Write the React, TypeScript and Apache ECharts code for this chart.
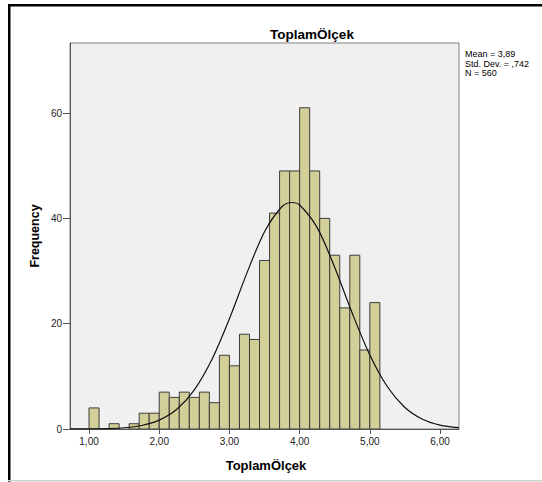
import React, { useEffect, useRef } from "react";
import * as echarts from "echarts";

// Histogram of ToplamÖlçek (bins of width 1/7 starting at 1,00)
const BIN_START = 1;
const BIN_WIDTH = 1 / 7;
const COUNTS = [4, 0, 1, 0, 1, 3, 3, 7, 6, 7, 6, 7, 5, 14, 12, 18, 17, 32, 41, 49, 49, 61, 49, 40, 33, 23, 33, 15, 24];

// Normal curve overlay (x, frequency)
const CURVE_X = [0.73, 1.0, 1.25, 1.5, 1.75, 2.0, 2.25, 2.5, 2.75, 3.0, 3.25, 3.5, 3.75, 3.89, 4.0, 4.25, 4.5, 4.75, 5.0, 5.25, 5.5, 5.75, 6.0, 6.27];
const CURVE_Y = [0.01, 0.02, 0.08, 0.24, 0.67, 1.68, 3.74, 7.44, 13.2, 20.95, 29.65, 37.46, 42.25, 43.01, 42.54, 38.24, 30.68, 21.97, 14.05, 8.02, 4.09, 1.86, 0.75, 0.25];

const X_TICKS = [1, 2, 3, 4, 5, 6];
const Y_TICKS = [0, 20, 40, 60];
const STATS = ["Mean = 3,89", "Std. Dev. = ,742", "N = 560"];
const TITLE = "ToplamÖlçek";
const X_NAME = "ToplamÖlçek";
const Y_NAME = "Frequency";

const FONT = "Liberation Sans, Arial, sans-serif";

export default function App() {
  const ref = useRef<HTMLDivElement>(null);
  useEffect(() => {
    if (!ref.current) return;
    const chart = echarts.init(ref.current, undefined, { renderer: "svg" });
    const barData = COUNTS.map((c, i) => [
      BIN_START + i * BIN_WIDTH,
      BIN_START + (i + 1) * BIN_WIDTH,
      c,
    ]).filter((d) => d[2] > 0);
    const curveData = CURVE_X.map((x, i) => [x, CURVE_Y[i]]);
    chart.setOption({
      animation: false,
      backgroundColor: "#ffffff",
      textStyle: { fontFamily: FONT },
      grid: {
        left: 70,
        top: 43,
        width: 389,
        height: 386,
        show: true,
        backgroundColor: "#f0f0f0",
        borderColor: "#808080",
        borderWidth: 1,
      },
      xAxis: {
        type: "value",
        min: 0.729,
        max: 6.27,
        splitLine: { show: false },
        axisLine: { show: true, onZero: false, lineStyle: { color: "#555555", width: 1 } },
        axisTick: { show: true, length: 5, customValues: X_TICKS, lineStyle: { color: "#555555" } },
        axisLabel: {
          customValues: X_TICKS,
          fontSize: 10,
          color: "#222222",
          fontFamily: FONT,
          margin: 7,
          formatter: (v: number) => v.toFixed(2).replace(".", ","),
        },
      },
      yAxis: {
        type: "value",
        min: 0,
        max: 73.3,
        splitLine: { show: false },
        axisLine: { show: true, lineStyle: { color: "#555555", width: 1 } },
        axisTick: { show: true, length: 7, customValues: Y_TICKS, lineStyle: { color: "#555555" } },
        axisLabel: {
          customValues: Y_TICKS,
          fontSize: 10,
          color: "#222222",
          fontFamily: FONT,
          margin: 8,
        },
      },
      series: [
        {
          type: "custom",
          data: barData,
          encode: { x: [0, 1], y: 2 },
          clip: true,
          renderItem: (params: any, api: any) => {
            const p0 = api.coord([api.value(0), api.value(2)]);
            const p1 = api.coord([api.value(1), 0]);
            return {
              type: "rect",
              shape: { x: p0[0], y: p0[1], width: p1[0] - p0[0], height: p1[1] - p0[1] },
              style: { fill: "#d3cf98", stroke: "#3c3c3c", lineWidth: 1 },
            };
          },
        },
        {
          type: "line",
          data: curveData,
          smooth: 0.3,
          showSymbol: false,
          symbol: "none",
          clip: true,
          lineStyle: { color: "#111111", width: 1.2 },
          z: 5,
        },
      ],
      graphic: [
        { type: "rect", shape: { x: 8, y: 4, width: 534, height: 2.5 }, style: { fill: "#000000" } },
        { type: "rect", shape: { x: 8, y: 4, width: 2.5, height: 478 }, style: { fill: "#000000" } },
        { type: "rect", shape: { x: 8, y: 480, width: 534, height: 1.5 }, style: { fill: "#d0d0d0" } },
        {
          type: "text",
          x: 312,
          y: 34,
          style: {
            text: TITLE,
            fontFamily: FONT,
            fontSize: 13.5,
            fontWeight: "bold",
            fill: "#000000",
            align: "center",
            verticalAlign: "middle",
          },
        },
        {
          type: "text",
          x: 266,
          y: 465,
          style: {
            text: X_NAME,
            fontFamily: FONT,
            fontSize: 13,
            fontWeight: "bold",
            fill: "#000000",
            align: "center",
            verticalAlign: "middle",
          },
        },
        {
          type: "text",
          x: 35,
          y: 236,
          rotation: Math.PI / 2,
          style: {
            text: Y_NAME,
            fontFamily: FONT,
            fontSize: 12.5,
            fontWeight: "bold",
            fill: "#000000",
            align: "center",
            verticalAlign: "middle",
          },
        },
        ...STATS.map((s, i) => ({
          type: "text",
          x: 465,
          y: 54 + i * 9.5,
          style: {
            text: s,
            fontFamily: FONT,
            fontSize: 9,
            fill: "#000000",
            align: "left",
            verticalAlign: "middle",
          },
        })),
      ],
    });
    return () => chart.dispose();
  }, []);
  return (
    <div
      ref={ref}
      style={{ position: "fixed", left: 0, top: 0, width: 542, height: 482 }}
    />
  );
}
